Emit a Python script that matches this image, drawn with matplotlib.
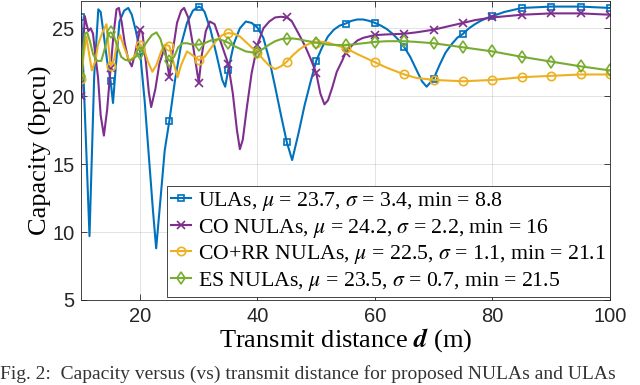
import numpy as np
import matplotlib
matplotlib.use("Agg")
import matplotlib.pyplot as plt

plt.rcParams["mathtext.fontset"] = "stix"

# Capacity (bpcu), per series: distance (m) and value
ula_d = [10, 11.4, 12.2, 12.9, 13.3, 13.8, 14.4, 15, 15.4, 15.9, 16.5, 17.3, 18.0, 18.6,
         19.3, 20, 20.8, 21.5, 22.2, 22.75, 23.5, 24.2, 25, 26, 27, 28, 29, 30, 30.5, 31,
         32, 33, 34, 34.5, 35, 36, 37, 38, 39, 40, 41, 42, 43, 44, 45, 45.9, 47, 48, 49,
         50, 51, 52, 53, 54, 55, 56, 57, 58, 59, 60, 61, 62, 63, 64, 65, 66, 67, 68, 68.8,
         70, 71, 72, 73, 74, 75, 76, 77, 78, 79, 80, 82, 85, 90, 95, 100]
ula_cap = [25.8, 9.7, 21.5, 26.4, 26.2, 24.6, 22.6, 21.1, 19.5, 22.3, 25.5, 26.3, 26.5, 26.0,
           24.8, 23.3, 19.6, 15.6, 11.6, 8.8, 12.5, 16.0, 18.2, 21.3, 23.8, 25.4, 26.3, 26.6, 26.5, 26.2,
           24.9, 23.1, 21.2, 20.7, 21.9, 23.9, 25.0, 25.5, 25.4, 25.05, 24.3, 22.7, 20.7, 18.6, 16.6, 15.3, 17.3, 19.3, 21.0,
           22.6, 23.6, 24.4, 24.9, 25.2, 25.35, 25.55, 25.65, 25.65, 25.55, 25.4, 25.2, 24.95, 24.6, 24.15, 23.6, 22.9, 22.0, 21.1, 20.7,
           21.3, 22.3, 23.2, 23.8, 24.3, 24.6, 25.0, 25.3, 25.55, 25.75, 25.9, 26.2, 26.5, 26.6, 26.6, 26.5]

co_d = [10, 10.3, 10.6, 10.9, 11.2, 11.6, 12.0, 12.4, 12.85, 13.3, 13.85, 14.4, 15, 15.5,
        16.0, 16.4, 16.9, 17.4, 18.0, 18.6, 19.2, 20, 20.4, 21.0, 21.5, 21.9, 22.6, 23.3,
        24.2, 25, 25.6, 26.3, 27, 27.5, 28.2, 29.0, 30, 30.5, 31.2, 31.9, 32.7, 33.5, 35,
        35.8, 36.5, 37, 37.5, 38.2, 39.0, 40, 41, 42, 43, 44, 45, 45.8, 46.5, 47.5, 48.2, 49,
        50, 50.7, 51.4, 52, 52.7, 53.5, 54.4, 55, 56, 57, 58, 60, 62, 65, 67, 70, 72, 75, 77,
        80, 85, 90, 95, 100]
co_cap = [20.0, 23.5, 25.9, 25.3, 24.8, 25.0, 24.6, 23.0, 21.4, 18.6, 17.1, 19.0, 22.1, 24.6,
          26.4, 26.5, 25.4, 23.9, 22.7, 22.2, 23.2, 24.9, 24.7, 22.5, 20.3, 19.2, 20.5, 22.4,
          23.6, 21.4, 23.4, 25.4, 26.3, 26.5, 25.8, 23.8, 21.0, 23.0, 24.8, 25.5, 25.3, 24.3, 22.4,
          20.2, 17.5, 16.1, 16.8, 19.2, 21.7, 23.8, 25.0, 25.5, 25.8, 25.85, 25.8, 25.55, 25.0, 24.2, 23.6, 22.8,
          21.7, 20.2, 19.4, 19.7, 20.6, 21.8, 22.6, 23.2, 23.7, 24.1, 24.3, 24.5, 24.55, 24.6, 24.7, 24.9, 25.1, 25.4, 25.6,
          25.8, 26.0, 26.1, 26.1, 26.0]

corr_d = [10, 10.4, 10.85, 11.3, 11.8, 12.4, 12.85, 13.6, 14.3, 14.6, 15, 15.6, 16.1, 16.6,
          17.3, 18.2, 19.0, 20, 20.6, 21.3, 22.1, 22.8, 23.6, 24.2, 25, 25.7, 26.4, 27.0, 28.0,
          29.0, 30, 31, 32, 33, 34, 35, 36, 37, 38, 39, 40, 41, 42, 43, 44, 45, 46, 47, 48, 49,
          50, 51, 52, 53, 55, 57, 60, 62, 65, 67, 70, 75, 80, 85, 90, 95, 100]
corr_cap = [21.3, 23.0, 24.4, 23.2, 21.9, 22.6, 23.8, 24.7, 25.3, 23.8, 22.2, 22.7, 24.0, 24.5,
            23.6, 22.6, 22.9, 23.8, 23.6, 22.6, 21.8, 22.3, 23.3, 23.8, 23.7, 22.5, 21.4, 22.3, 23.3,
            23.0, 22.65, 22.9, 23.5, 24.1, 24.5, 24.65, 24.6, 24.4, 24.0, 23.6, 23.2, 22.7, 22.25, 22.0, 22.2, 22.55, 23.0, 23.4, 23.7, 23.9,
            23.95, 24.0, 23.95, 23.8, 23.55, 23.1, 22.5, 22.1, 21.6, 21.35, 21.2, 21.1, 21.2, 21.4, 21.5, 21.6, 21.6]

es_d = [10, 10.3, 10.6, 11.0, 11.5, 12.0, 12.7, 13.4, 14.0, 14.6, 15, 15.5, 16.2, 16.8,
        17.4, 18.2, 19.0, 20, 21, 22, 22.8, 23.5, 24.2, 25, 25.8, 26.5, 27.2, 28, 29, 30, 31,
        32, 33.5, 35, 36, 37, 38, 39.5, 40, 41, 42, 43, 44, 45, 46, 47, 48, 50, 52, 55, 57,
        60, 62, 65, 67, 70, 75, 80, 85, 90, 95, 100]
es_cap = [21.5, 23.3, 24.6, 24.7, 24.0, 23.1, 22.6, 22.6, 23.5, 24.6, 24.7, 24.5, 23.6, 22.9,
          22.7, 22.6, 22.8, 23.2, 23.9, 24.5, 24.7, 24.2, 23.1, 22.6, 22.9, 23.6, 23.9, 23.9, 23.8, 23.8, 23.9,
          24.1, 24.2, 23.95, 23.7, 23.5, 23.3, 23.2, 23.25, 23.5, 23.8, 24.05, 24.2, 24.25, 24.25, 24.2, 24.1, 23.95, 23.8, 23.75, 23.85,
          24.0, 24.05, 24.05, 24.0, 23.9, 23.6, 23.3, 22.9, 22.55, 22.2, 21.9]

labels = [r"ULAs, $\mu$ = 23.7, $\sigma$ = 3.4, min = 8.8",
          r"CO NULAs, $\mu$ = 24.2, $\sigma$ = 2.2, min = 16",
          r"CO+RR NULAs, $\mu$ = 22.5, $\sigma$ = 1.1, min = 21.1",
          r"ES NULAs, $\mu$ = 23.5, $\sigma$ = 0.7, min = 21.5"]

series = [(ula_d, ula_cap, "#0072BD", "s", 5),
          (co_d, co_cap, "#7E2F8E", "x", 6),
          (corr_d, corr_cap, "#EDB120", "o", 6),
          (es_d, es_cap, "#77AC30", "d", 6.5)]

fig = plt.figure(figsize=(6.4, 3.85), dpi=100)
ax = fig.add_axes([0.127, 0.221, 0.826, 0.776])

for (d, cap, col, mk, ms), lab in zip(series, labels):
    d = np.array(d)
    marks = np.where(np.isclose(np.mod(d, 5), 0))[0]
    ax.plot(d, cap, color=col, lw=1.5, marker=mk, markevery=list(marks), ms=ms,
            mfc="none", mew=1.2, label=lab)

ax.set_xlim(10, 100)
ax.set_ylim(5, 27)
ax.set_xticks([20, 40, 60, 80, 100])
ax.set_yticks([5, 10, 15, 20, 25])
ax.grid(True, color="#262626", alpha=0.13, lw=0.7)
ax.tick_params(direction="in", top=True, right=True, length=4, width=0.6,
               colors="#262626", labelsize=14.5, pad=5)
for lab in ax.get_xticklabels() + ax.get_yticklabels():
    lab.set_family("Liberation Sans")
for sp in ax.spines.values():
    sp.set_color("#262626")
    sp.set_linewidth(0.6)

ax.set_xlabel(r"Transmit distance $\mathbfit{d}$ (m)", family="Liberation Serif",
              fontsize=19, labelpad=0)
ax.set_ylabel("Capacity (bpcu)", family="Liberation Serif", fontsize=19, labelpad=0)

leg = ax.legend(loc="lower right", bbox_to_anchor=(1.0, 0.01), borderaxespad=0,
                prop={"family": "Liberation Serif", "size": 15.7}, handlelength=0.9,
                handletextpad=0.3, labelspacing=0.16, borderpad=0.2, fancybox=False,
                framealpha=1, edgecolor="#262626")
leg.get_frame().set_linewidth(0.6)

# caption under the plot (cut off at the bottom in the source)
fig.text(0.0, 0.006, "Fig. 2:  Capacity versus (vs) transmit distance for proposed NULAs and ULAs",
         family="Liberation Serif", fontsize=14, va="bottom", ha="left", color="#333333")

fig.savefig("out.png", dpi=100)
